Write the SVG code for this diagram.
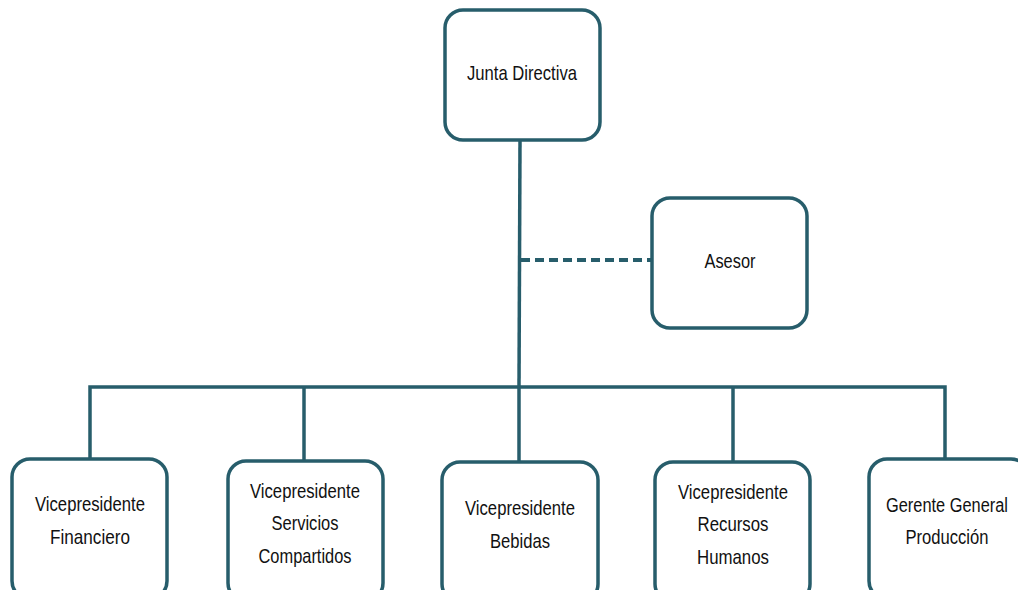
<svg xmlns="http://www.w3.org/2000/svg" width="1018" height="590" viewBox="0 0 1018 590">
<style>
.box{fill:#fff;stroke:#275d6b;stroke-width:3.5}
.ln{stroke:#275d6b;stroke-width:3.5;fill:none}
.dash{stroke:#275d6b;stroke-width:4;fill:none;stroke-dasharray:9,5}
text{font-family:"Liberation Sans",Arial,sans-serif;font-size:21px;fill:#111;text-anchor:middle}
</style>
<rect width="1018" height="590" fill="#fff"/>
<g id="connectors">
<line class="ln" x1="520" y1="140" x2="519" y2="388"/>
<line class="dash" x1="521" y1="260" x2="652" y2="260"/>
<polyline class="ln" points="90,460 90,387 945,387 945,460"/>
<line class="ln" x1="304" y1="387" x2="304" y2="462"/>
<line class="ln" x1="519" y1="387" x2="519" y2="462"/>
<line class="ln" x1="733" y1="387" x2="733" y2="462"/>
</g>
<g id="junta"><rect class="box" x="445" y="10" width="155" height="130" rx="18"/><text x="522" y="80" textLength="110" lengthAdjust="spacingAndGlyphs">Junta Directiva</text></g>
<g id="asesor"><rect class="box" x="652" y="198" width="155" height="130" rx="18"/><text x="730" y="268" textLength="51" lengthAdjust="spacingAndGlyphs">Asesor</text></g>
<g id="financiero"><rect class="box" x="12" y="459" width="155" height="140" rx="18"/><text x="90" y="511" textLength="110" lengthAdjust="spacingAndGlyphs">Vicepresidente</text><text x="90" y="544" textLength="80" lengthAdjust="spacingAndGlyphs">Financiero</text></g>
<g id="servicios"><rect class="box" x="228" y="461" width="155" height="140" rx="18"/><text x="305" y="498" textLength="110" lengthAdjust="spacingAndGlyphs">Vicepresidente</text><text x="305" y="530" textLength="67" lengthAdjust="spacingAndGlyphs">Servicios</text><text x="305" y="563" textLength="93" lengthAdjust="spacingAndGlyphs">Compartidos</text></g>
<g id="bebidas"><rect class="box" x="442" y="462" width="156" height="140" rx="18"/><text x="520" y="515" textLength="110" lengthAdjust="spacingAndGlyphs">Vicepresidente</text><text x="520" y="548" textLength="60" lengthAdjust="spacingAndGlyphs">Bebidas</text></g>
<g id="recursos"><rect class="box" x="655" y="462" width="155" height="140" rx="18"/><text x="733" y="499" textLength="110" lengthAdjust="spacingAndGlyphs">Vicepresidente</text><text x="733" y="531" textLength="71" lengthAdjust="spacingAndGlyphs">Recursos</text><text x="733" y="564" textLength="72" lengthAdjust="spacingAndGlyphs">Humanos</text></g>
<g id="gerente"><rect class="box" x="869" y="459" width="160" height="140" rx="18"/><text transform="translate(947,512) scale(0.78,1)" x="0" y="0">Gerente General</text><text x="947" y="544" textLength="83" lengthAdjust="spacingAndGlyphs">Producción</text></g>
</svg>
